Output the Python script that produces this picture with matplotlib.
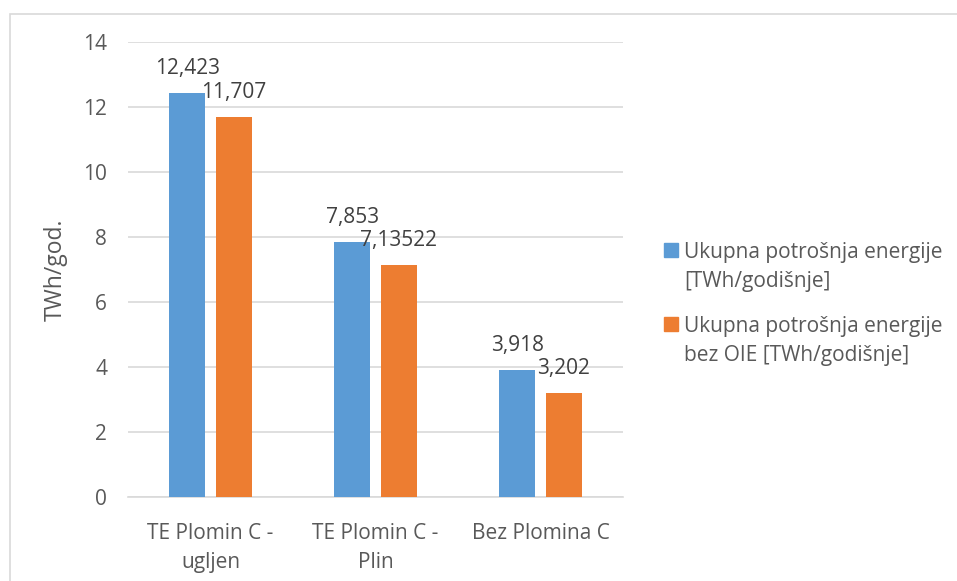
import matplotlib.pyplot as plt
from matplotlib.patches import Rectangle
import numpy as np

# data
categories = ["TE Plomin C -\nugljen", "TE Plomin C -\nPlin", "Bez Plomina C"]
ukupno = [12.423, 7.853, 3.918]
bez_oie = [11.707, 7.13522, 3.202]
series_names = ["Ukupna potrošnja energije\n[TWh/godišnje]",
                "Ukupna potrošnja energije\nbez OIE [TWh/godišnje]"]
colors = ["#5B9BD5", "#ED7D31"]
y_ticks = [0, 2, 4, 6, 8, 10, 12, 14]

plt.rcParams['font.family'] = ['Open Sans', 'DejaVu Sans']
txt = "#595959"
grid = "#d9d9d9"
fs = 15

fig = plt.figure(figsize=(9.57, 5.81), dpi=100)
ax = fig.add_axes([128/957, 1 - 497/581, 495/957, 455/581])

x = np.arange(len(categories))
w = 0.218
off = 0.142
for vals, dx, c in zip([ukupno, bez_oie], [-off, off], colors):
    bars = ax.bar(x + dx, vals, width=w, color=c, zorder=3)
    for b, v in zip(bars, vals):
        ax.annotate(str(v).replace('.', ','), (b.get_x() + b.get_width()/2, v),
                    xytext=(0, 10), textcoords='offset points',
                    ha='center', va='bottom', fontsize=fs, color="#404040")

ax.set_xlim(-0.5, 2.5)
ax.set_ylim(0, 14)
ax.set_yticks(y_ticks)
ax.set_xticks(x)
ax.set_xticklabels(categories, linespacing=1.5)
ax.tick_params(axis='both', length=0, labelsize=fs, colors=txt)
ax.tick_params(axis='y', pad=15)
ax.tick_params(axis='x', pad=19)
ax.yaxis.grid(True, color=grid, lw=1.2, zorder=0)
for s in ['top', 'right', 'left']:
    ax.spines[s].set_visible(False)
ax.spines['bottom'].set_color(grid)
ax.spines['bottom'].set_linewidth(1.2)

ax.set_ylabel("TWh/god.", fontsize=16.5, color=txt)
ax.yaxis.set_label_coords(-0.122, 0.5)

# legend drawn by hand (marker next to first line, like Excel)
leg_y = [250, 324]
for name, c, yy in zip(series_names, colors, leg_y):
    fig.patches.append(Rectangle((664/957, 1 - (yy + 7)/581), 14/957, 14/581,
                                 transform=fig.transFigure, color=c))
    for i, line in enumerate(name.split("\n")):
        fig.text(684/957, 1 - (yy + 29*i)/581, line, ha='left',
                 va='center_baseline', fontsize=fs, color=txt)

# outer chart border
fig.patches.append(Rectangle((10/957, -0.1), 1.2, 1 - 14/581 + 0.1,
                             transform=fig.transFigure, fill=False,
                             edgecolor=grid, lw=1.2))

fig.savefig("out.png", dpi=100)
